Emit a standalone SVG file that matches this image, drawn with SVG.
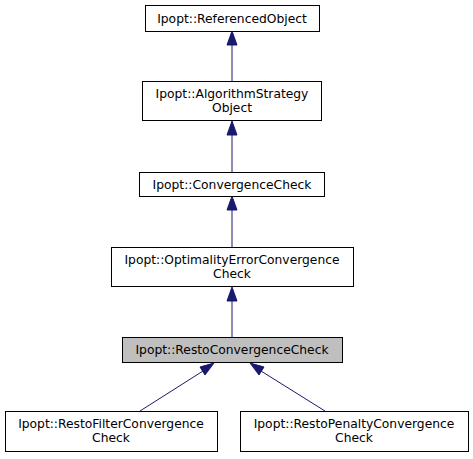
<svg xmlns="http://www.w3.org/2000/svg" width="473" height="459" viewBox="0 0 473 459">
<style>
.n{fill:#ffffff;stroke:#000000;stroke-width:1}
.h{fill:#bfbfbf;stroke:#000000;stroke-width:1}
text{font-family:"DejaVu Sans",sans-serif;font-size:12.3px;text-anchor:middle;fill:#000000}
.e{stroke:#191970;stroke-width:1;fill:none}
.a{fill:#191970;stroke:#191970;stroke-width:1}
</style>
<rect width="473" height="459" fill="#ffffff"/>
<g id="edges">
<path class="e" d="M232,81V44"/><polygon class="a" points="232,31 227,45 237,45"/>
<path class="e" d="M232,172V135"/><polygon class="a" points="232,121 227,135 237,135"/>
<path class="e" d="M232,247V210"/><polygon class="a" points="232,196 227,210 237,210"/>
<path class="e" d="M232,337V301"/><polygon class="a" points="232,287 227,301 237,301"/>
<path class="e" d="M140,411L203,371"/><polygon class="a" points="214,363 200,367 205,375"/>
<path class="e" d="M325,411L261,371"/><polygon class="a" points="250,363 259,375 264,367"/>
</g>
<g id="node1"><rect class="n" x="145.5" y="5.5" width="174" height="26"/><text x="232" y="22.5">Ipopt::ReferencedObject</text></g>
<g id="node2"><rect class="n" x="142.5" y="81.5" width="179" height="39"/><text x="232" y="97.5">Ipopt::AlgorithmStrategy</text><text x="232" y="111.5">Object</text></g>
<g id="node3"><rect class="n" x="139.5" y="172.5" width="185" height="24"/><text x="232" y="188.5">Ipopt::ConvergenceCheck</text></g>
<g id="node4"><rect class="n" x="111.5" y="247.5" width="242" height="39"/><text x="232" y="263.5">Ipopt::OptimalityErrorConvergence</text><text x="232" y="277.5">Check</text></g>
<g id="node5"><rect class="h" x="122.5" y="337.5" width="220" height="25"/><text x="232" y="353.5">Ipopt::RestoConvergenceCheck</text></g>
<g id="node6"><rect class="n" x="5.5" y="411.5" width="212" height="40"/><text x="111" y="427.5">Ipopt::RestoFilterConvergence</text><text x="111" y="441.5">Check</text></g>
<g id="node7"><rect class="n" x="240.5" y="411.5" width="228" height="40"/><text x="354" y="427.5">Ipopt::RestoPenaltyConvergence</text><text x="354" y="441.5">Check</text></g>
</svg>
